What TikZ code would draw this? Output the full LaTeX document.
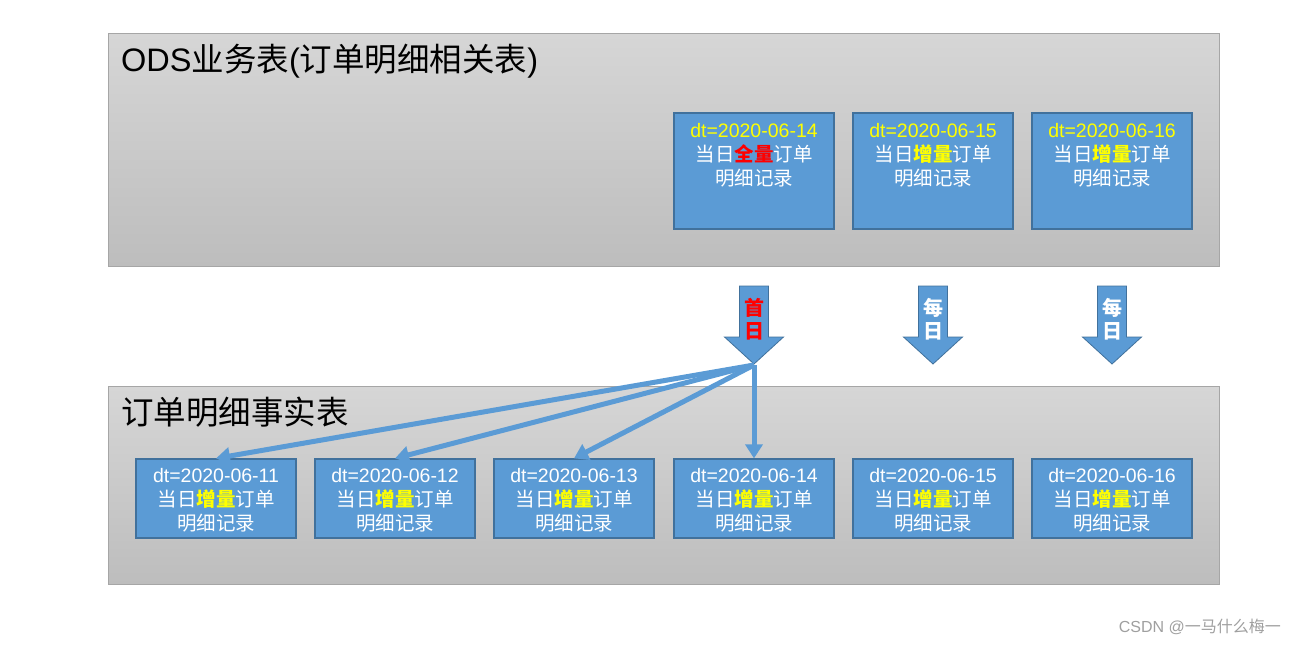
\documentclass[tikz,border=0pt]{standalone}
\usepackage{fontspec}
\setmainfont{Liberation Sans}
\newfontfamily\cjk{Noto Sans CJK SC}
\usetikzlibrary{arrows.meta}
\definecolor{boxblue}{HTML}{5B9BD5}
\definecolor{boxedge}{HTML}{41719C}
\definecolor{paneltop}{HTML}{D6D6D6}
\definecolor{panelbot}{HTML}{BDBDBD}
\definecolor{paneledge}{HTML}{A6A6A6}
\definecolor{hiyel}{HTML}{FFFF00}
\definecolor{hired}{HTML}{FF0000}
\newcommand\zh[1]{{\cjk #1}}
\newcommand\zhb[2]{{\cjk\bfseries\textcolor{#1}{#2}}}
\tikzset{
  panel/.style={draw=paneledge, line width=0.8pt, top color=paneltop, bottom color=panelbot, anchor=north west, inner sep=0pt},
  recbox/.style={draw=boxedge, line width=1.2pt, fill=boxblue, minimum width=160pt, inner sep=0pt},
  rectext/.style={text=white, align=center, font=\fontsize{19.5}{24}\selectfont, inner sep=0pt},
  paneltitle/.style={anchor=west, inner sep=0pt, font=\fontsize{32.5}{36}\selectfont},
  blockarrow/.style={fill=boxblue, draw=boxedge, line width=0.8pt, line join=miter},
  arrowtext/.style={align=center, inner sep=0pt, font=\fontsize{20}{23}\selectfont\cjk\bfseries},
  conn/.style={draw=boxblue, line width=5pt, -{Triangle[length=14pt,width=17pt]}},
  wm/.style={text=gray!75, inner sep=0pt, font=\fontsize{16}{18}\selectfont}
}
\begin{document}
\begin{tikzpicture}[x=1pt,y=-1pt]
\useasboundingbox (0,0) rectangle (1297,645);
% panels
\node[panel, minimum width=1111pt, minimum height=233pt] (ods) at (108,33) {};
\node[panel, minimum width=1111pt, minimum height=198pt] (fact) at (108,386) {};
\node[paneltitle] (odstitle) at (121,61) {ODS\zh{业务表}(\zh{订单明细相关表})};
\node[paneltitle] (facttitle) at (121,412) {\zh{订单明细事实表}};
% top boxes
\foreach \n/\x in {14/754, 15/933, 16/1112}{
  \node[recbox, minimum height=116pt] (t\n) at (\x,171) {};
}
\node[rectext, anchor=north] (t14txt) at (754,123) {\textcolor{hiyel}{dt=2020-06-14}\\\zh{当日}\zhb{hired}{全量}\zh{订单}\\\zh{明细记录}};
\node[rectext, anchor=north] (t15txt) at (933,123) {\textcolor{hiyel}{dt=2020-06-15}\\\zh{当日}\zhb{hiyel}{增量}\zh{订单}\\\zh{明细记录}};
\node[rectext, anchor=north] (t16txt) at (1112,123) {\textcolor{hiyel}{dt=2020-06-16}\\\zh{当日}\zhb{hiyel}{增量}\zh{订单}\\\zh{明细记录}};
% bottom boxes
\foreach \n/\x in {11/216, 12/395, 13/574, 14/754, 15/933, 16/1112}{
  \node[recbox, minimum height=79pt] (b\n) at (\x,498.5) {};
  \node[rectext] (b\n txt) at (\x,500) {dt=2020-06-\n\\\zh{当日}\zhb{hiyel}{增量}\zh{订单}\\\zh{明细记录}};
}
% block arrows
\foreach \i/\x in {1/754, 2/933, 3/1112}{
  \draw[blockarrow] (\x-14.5,286) -- (\x+14.5,286) -- (\x+14.5,337) -- (\x+29.5,337)
     -- (\x,364) -- (\x-29.5,337) -- (\x-14.5,337) -- cycle;
  \coordinate (tip\i) at (\x,365);
}
\node[arrowtext, text=hired] (a1txt) at (754,319) {首\\日};
\node[arrowtext, text=white] (a2txt) at (933,319) {每\\日};
\node[arrowtext, text=white] (a3txt) at (1112,319) {每\\日};
% connectors
\draw[conn] (tip1) -- (b11.north);
\draw[conn] (tip1) -- (b12.north);
\draw[conn] (tip1) -- (b13.north);
\draw[conn] (tip1) -- (b14.north);
% watermark
\node[wm, anchor=east] (wmark) at (1281,627) {CSDN @\zh{一马什么梅一}};
\end{tikzpicture}
\end{document}
